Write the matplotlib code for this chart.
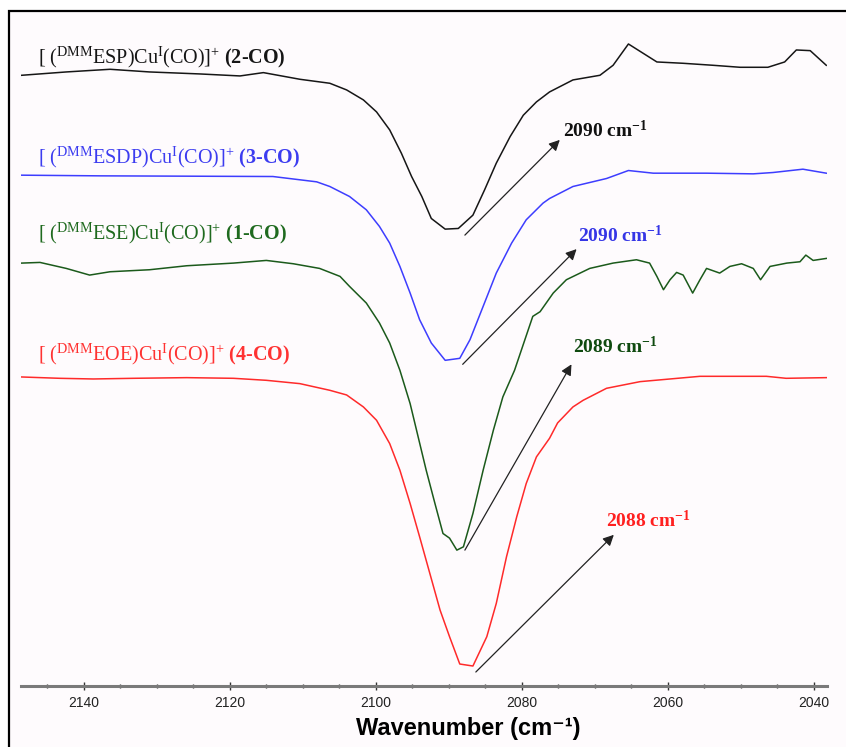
import matplotlib.pyplot as plt
from matplotlib.patches import Rectangle

plt.rcParams['mathtext.fontset'] = 'custom'
plt.rcParams['mathtext.rm'] = 'Liberation Serif'
plt.rcParams['mathtext.bf'] = 'Liberation Serif:bold'
plt.rcParams['mathtext.it'] = 'Liberation Serif:italic'

# wavenumber (cm-1) / transmittance (a.u., offset)
wn_2co = [2148.5, 2142.4, 2136.4, 2131.0, 2124.1, 2118.6, 2115.4, 2110.4, 2106.3, 2104.0,
          2101.7, 2099.9, 2098.1, 2096.5, 2095.1, 2093.7, 2092.4, 2090.5, 2088.7, 2086.7,
          2085.1, 2083.5, 2081.6, 2079.8, 2078.0, 2076.2, 2073.0, 2069.3, 2067.5, 2065.4,
          2061.5, 2057.9, 2053.8, 2050.1, 2046.3, 2044.0, 2042.4, 2040.5, 2038.3]
t_2co = [91.7, 92.2, 92.6, 92.2, 91.9, 91.6, 92.1, 91.1, 90.5, 89.5,
         88.0, 86.2, 83.5, 80.0, 76.5, 73.5, 70.2, 68.6, 68.7, 70.7,
         74.5, 78.5, 82.5, 85.7, 87.7, 89.2, 91.0, 91.7, 93.2, 96.4,
         93.7, 93.5, 93.2, 92.9, 92.9, 93.7, 95.5, 95.4, 93.2]

wn_3co = [2148.5, 2137.8, 2114.1, 2108.1, 2106.3, 2103.6, 2101.3, 2099.5, 2098.1, 2096.7,
          2095.3, 2094.0, 2092.4, 2090.5, 2088.5, 2087.1, 2085.3, 2083.5, 2081.4, 2079.4,
          2077.1, 2076.2, 2073.0, 2068.4, 2065.4, 2062.0, 2054.7, 2048.3, 2045.6, 2041.5,
          2038.3]
t_3co = [76.7, 76.6, 76.5, 75.7, 75.0, 73.5, 71.5, 69.0, 66.5, 63.0,
         59.0, 55.0, 51.5, 48.9, 49.2, 52.0, 57.0, 62.0, 66.5, 70.0,
         72.5, 73.2, 75.0, 76.2, 77.4, 77.0, 77.0, 76.9, 77.1, 77.6,
         77.0]

wn_1co = [2148.5, 2146.0, 2142.4, 2139.2, 2136.4, 2131.0, 2125.9, 2119.5, 2115.0, 2111.3,
          2107.7, 2104.9, 2103.6, 2101.3, 2099.5, 2098.1, 2096.7, 2095.3, 2094.2, 2093.1,
          2091.9, 2090.8, 2089.9, 2088.9, 2088.0, 2086.7, 2085.3, 2083.9, 2082.6, 2081.0,
          2078.5, 2077.5, 2075.7, 2073.9, 2070.7, 2067.5, 2064.3, 2062.5, 2061.5, 2060.6,
          2059.7, 2058.8, 2057.9, 2056.6, 2055.6, 2054.7, 2052.9, 2051.5, 2049.9, 2048.3,
          2047.3, 2046.0, 2043.7, 2041.9, 2041.1, 2040.1, 2038.3]
t_1co = [63.5, 63.6, 62.7, 61.7, 62.2, 62.5, 63.1, 63.5, 63.9, 63.4,
         62.7, 61.5, 60.0, 57.5, 54.5, 51.5, 47.4, 42.4, 37.4, 32.4,
         27.4, 22.9, 22.2, 20.4, 20.9, 25.9, 32.4, 38.4, 43.4, 47.4,
         55.5, 56.2, 59.0, 61.0, 62.7, 63.5, 64.0, 63.5, 61.5, 59.5,
         61.0, 62.1, 61.7, 59.0, 61.0, 62.7, 62.0, 63.0, 63.4, 62.7,
         61.0, 63.0, 63.5, 63.7, 64.7, 63.9, 64.2]

wn_4co = [2148.5, 2143.3, 2138.7, 2133.2, 2125.9, 2119.5, 2115.0, 2110.4, 2106.3, 2104.0,
          2101.7, 2099.9, 2098.1, 2096.7, 2095.3, 2094.0, 2092.6, 2091.2, 2089.9, 2088.5,
          2086.7, 2084.8, 2083.5, 2082.1, 2080.7, 2079.4, 2078.0, 2076.2, 2075.1, 2073.0,
          2071.6, 2068.4, 2063.8, 2055.6, 2046.5, 2043.8, 2038.3]
t_4co = [46.4, 46.2, 46.1, 46.2, 46.3, 46.2, 45.9, 45.4, 44.4, 43.7,
         41.9, 39.9, 36.4, 32.4, 27.4, 22.4, 16.9, 11.4, 7.4, 3.3,
         3.0, 7.4, 12.4, 19.4, 25.4, 30.4, 34.4, 37.2, 39.5, 41.9,
         42.9, 44.7, 45.7, 46.5, 46.5, 46.2, 46.3]

names = [r'[ ($^{\mathrm{DMM}}$ESP)Cu$^{\mathrm{I}}$(CO)]$^{+}$ $\mathbf{(2}$-$\mathbf{CO)}$',
         r'[ ($^{\mathrm{DMM}}$ESDP)Cu$^{\mathrm{I}}$(CO)]$^{+}$ $\mathbf{(3}$-$\mathbf{CO)}$',
         r'[ ($^{\mathrm{DMM}}$ESE)Cu$^{\mathrm{I}}$(CO)]$^{+}$ $\mathbf{(1}$-$\mathbf{CO)}$',
         r'[ ($^{\mathrm{DMM}}$EOE)Cu$^{\mathrm{I}}$(CO)]$^{+}$ $\mathbf{(4}$-$\mathbf{CO)}$']
peaks = ['2090', '2090', '2089', '2088']

line_cols = ['#161616', '#3d3dff', '#1b5a1b', '#ff2a2a']
name_cols = ['#161616', '#3c3cf0', '#1f6a1f', '#ff3232']
peak_cols = ['#111111', '#3535e6', '#0f4a0f', '#ff2020']

name_y = [93.5, 78.5, 67.0, 48.9]
peak_pos = [(2074.4, 82.4), (2072.3, 66.7), (2073.0, 50.0), (2068.5, 23.9)]
arrows = [((2087.8, 67.7), (2074.8, 82.0)),
          ((2088.1, 48.3), (2072.5, 65.6)),
          ((2087.8, 20.4), (2073.2, 48.3)),
          ((2086.3, 2.1), (2067.4, 22.7))]

fig = plt.figure(figsize=(8.46, 7.47), dpi=100)
fig.patches.append(Rectangle((9 / 846, -0.05), 1.1, 1.05 - 11 / 747, transform=fig.transFigure,
                             facecolor='#fefbfd', edgecolor='black', lw=1.6, zorder=-10))

ax = fig.add_axes([21 / 846, 61 / 747, 806 / 846, 666 / 747])
ax.patch.set_visible(False)

series = [(wn_2co, t_2co), (wn_3co, t_3co), (wn_1co, t_1co), (wn_4co, t_4co)]
for i, (x, y) in enumerate(series):
    ax.plot(x, y, color=line_cols[i], lw=1.1, solid_joinstyle='round')
    ax.text(2146.3, name_y[i], names[i], color=name_cols[i], fontsize=14.5,
            family='Liberation Serif', ha='left', va='baseline')
    ax.text(peak_pos[i][0], peak_pos[i][1], peaks[i] + r' cm$^{\mathbf{-1}}$',
            color=peak_cols[i], fontsize=14, family='Liberation Serif', weight='bold',
            ha='left', va='baseline')
    ax.annotate('', xy=arrows[i][1], xytext=arrows[i][0],
                arrowprops=dict(arrowstyle='-|>', color='#222222', lw=0.9,
                                mutation_scale=16, shrinkA=0, shrinkB=0))

ax.set_xlim(2148.6, 2038.2)
ax.set_ylim(0, 100)
ax.set_xticks([2140, 2120, 2100, 2080, 2060, 2040])
ax.set_xticks(range(2145, 2038, -5), minor=True)
ax.set_yticks([])
for s in ['top', 'left', 'right']:
    ax.spines[s].set_visible(False)
ax.spines['bottom'].set_color('#7a7a7a')
ax.spines['bottom'].set_linewidth(2.2)
ax.tick_params(axis='x', which='major', direction='inout', length=6, width=1,
               color='#333333', labelsize=10, labelcolor='#222222', pad=4)
ax.tick_params(axis='x', which='minor', direction='inout', length=3, width=1, color='#333333')
for lab in ax.get_xticklabels():
    lab.set_family('Liberation Sans')

fig.text(468 / 846, 1 - 728 / 747, 'Wavenumber (cm⁻¹)', fontsize=17, weight='bold',
         family=['Liberation Sans', 'DejaVu Sans'], ha='center', va='center')

fig.savefig('out.png', dpi=100, facecolor='white')
